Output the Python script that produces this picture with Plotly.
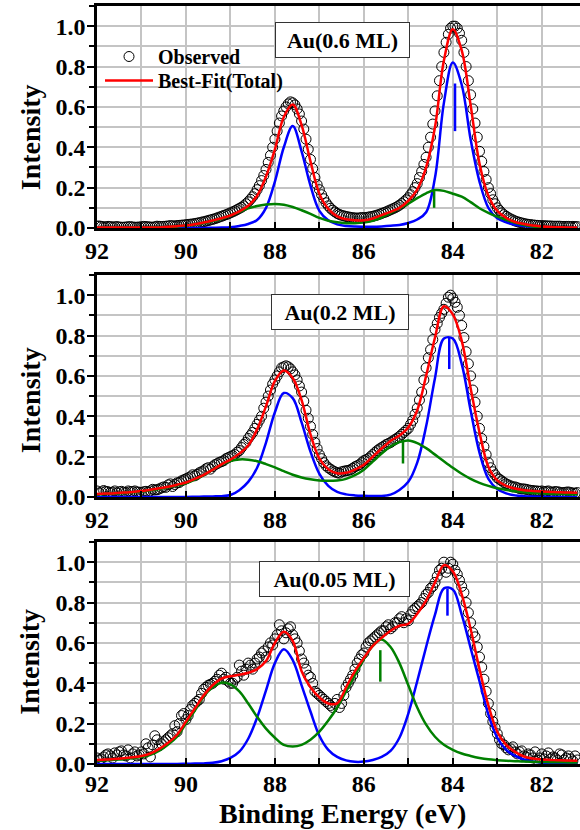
#!/usr/bin/env python3
"""Au 4f XPS spectra at three coverages: observed points with fitted components."""

from __future__ import annotations

import plotly.graph_objects as go
from plotly.subplots import make_subplots


FONT = "Liberation Serif"
GRID = "#c4c4c4"
BLUE = "#0000ff"
GREEN = "#008000"
RED = "#ff0000"

W, H = 580, 830
M_LEFT, M_RIGHT, M_TOP, M_BOT = 97, 0, 6, 66
# panel (top, bottom) in pixels
PANELS_PX = [(6, 228), (275, 497), (542, 764)]
# shift of the energy tick labels per panel (px)
XLABEL_STANDOFF = [-1, -1, -4]

X_RANGE = [92, 81.14]
Y_RANGE = [0, 1.1]

COVERAGE_LABELS = ["Au(0.6 ML)", "Au(0.2 ML)", "Au(0.05 ML)"]

# energy grid of the fitted curves (eV)
ENERGY_FIT = [
    92.0, 91.8, 91.6, 91.4, 91.2, 91.0, 90.8, 90.6, 90.4, 90.2,
    90.0, 89.8, 89.6, 89.4, 89.2, 89.0, 88.8, 88.6, 88.4, 88.2,
    88.0, 87.8, 87.6, 87.4, 87.2, 87.0, 86.8, 86.6, 86.4, 86.2,
    86.0, 85.8, 85.6, 85.4, 85.2, 85.0, 84.8, 84.6, 84.4, 84.2,
    84.0, 83.8, 83.6, 83.4, 83.2, 83.0, 82.8, 82.6, 82.4, 82.2,
    82.0, 81.8, 81.6, 81.4, 81.2,
]

# energy grid of the measured points (eV): whole tenths ...
ENERGY_OBS = [
    92.0, 91.9, 91.8, 91.7, 91.6, 91.5, 91.4, 91.3, 91.2, 91.1,
    91.0, 90.9, 90.8, 90.7, 90.6, 90.5, 90.4, 90.3, 90.2, 90.1,
    90.0, 89.9, 89.8, 89.7, 89.6, 89.5, 89.4, 89.3, 89.2, 89.1,
    89.0, 88.9, 88.8, 88.7, 88.6, 88.5, 88.4, 88.3, 88.2, 88.1,
    88.0, 87.9, 87.8, 87.7, 87.6, 87.5, 87.4, 87.3, 87.2, 87.1,
    87.0, 86.9, 86.8, 86.7, 86.6, 86.5, 86.4, 86.3, 86.2, 86.1,
    86.0, 85.9, 85.8, 85.7, 85.6, 85.5, 85.4, 85.3, 85.2, 85.1,
    85.0, 84.9, 84.8, 84.7, 84.6, 84.5, 84.4, 84.3, 84.2, 84.1,
    84.0, 83.9, 83.8, 83.7, 83.6, 83.5, 83.4, 83.3, 83.2, 83.1,
    83.0, 82.9, 82.8, 82.7, 82.6, 82.5, 82.4, 82.3, 82.2, 82.1,
    82.0, 81.9, 81.8, 81.7, 81.6, 81.5, 81.4, 81.3, 81.2,
]
# ... and the half steps between them
ENERGY_OBS_MID = [
    91.95, 91.85, 91.75, 91.65, 91.55, 91.45, 91.35, 91.25, 91.15, 91.05,
    90.95, 90.85, 90.75, 90.65, 90.55, 90.45, 90.35, 90.25, 90.15, 90.05,
    89.95, 89.85, 89.75, 89.65, 89.55, 89.45, 89.35, 89.25, 89.15, 89.05,
    88.95, 88.85, 88.75, 88.65, 88.55, 88.45, 88.35, 88.25, 88.15, 88.05,
    87.95, 87.85, 87.75, 87.65, 87.55, 87.45, 87.35, 87.25, 87.15, 87.05,
    86.95, 86.85, 86.75, 86.65, 86.55, 86.45, 86.35, 86.25, 86.15, 86.05,
    85.95, 85.85, 85.75, 85.65, 85.55, 85.45, 85.35, 85.25, 85.15, 85.05,
    84.95, 84.85, 84.75, 84.65, 84.55, 84.45, 84.35, 84.25, 84.15, 84.05,
    83.95, 83.85, 83.75, 83.65, 83.55, 83.45, 83.35, 83.25, 83.15, 83.05,
    82.95, 82.85, 82.75, 82.65, 82.55, 82.45, 82.35, 82.25, 82.15, 82.05,
    81.95, 81.85, 81.75, 81.65, 81.55, 81.45, 81.35, 81.25,
]

# ---- Au(0.6 ML)
OBS_06 = [
    0.009, 0.008, 0.006, 0.007, 0.006, 0.005, 0.004, 0.006, 0.005, 0.004,
    0.006, 0.007, 0.005, 0.006, 0.008, 0.008, 0.010, 0.011, 0.012, 0.014,
    0.016, 0.019, 0.022, 0.026, 0.031, 0.037, 0.043, 0.050, 0.058, 0.066,
    0.075, 0.085, 0.097, 0.110, 0.130, 0.155, 0.190, 0.235, 0.290, 0.360,
    0.440, 0.520, 0.580, 0.615, 0.620, 0.590, 0.530, 0.440, 0.340, 0.250,
    0.190, 0.145, 0.110, 0.088, 0.072, 0.063, 0.057, 0.053, 0.050, 0.050,
    0.051, 0.054, 0.058, 0.064, 0.072, 0.080, 0.090, 0.100, 0.113, 0.130,
    0.150, 0.180, 0.220, 0.280, 0.350, 0.450, 0.580, 0.730, 0.870, 0.960,
    1.000, 0.990, 0.930, 0.800, 0.660, 0.520, 0.380, 0.280, 0.200, 0.140,
    0.100, 0.075, 0.058, 0.045, 0.035, 0.028, 0.022, 0.018, 0.015, 0.013,
    0.012, 0.011, 0.010, 0.009, 0.009, 0.008, 0.008, 0.008, 0.007,
]
OBS_06_MID = [
    0.010, 0.006, 0.008, 0.005, 0.007, 0.004, 0.005, 0.007, 0.004, 0.005,
    0.008, 0.006, 0.004, 0.009, 0.007, 0.009, 0.012, 0.010, 0.013, 0.015,
    0.018, 0.020, 0.024, 0.029, 0.034, 0.040, 0.046, 0.054, 0.062, 0.070,
    0.080, 0.091, 0.103, 0.120, 0.142, 0.170, 0.210, 0.260, 0.325, 0.400,
    0.480, 0.555, 0.600, 0.625, 0.610, 0.565, 0.490, 0.390, 0.295, 0.215,
    0.165, 0.125, 0.098, 0.080, 0.067, 0.060, 0.055, 0.051, 0.049, 0.052,
    0.052, 0.056, 0.061, 0.068, 0.076, 0.085, 0.095, 0.106, 0.121, 0.140,
    0.165, 0.200, 0.250, 0.315, 0.400, 0.515, 0.655, 0.800, 0.920, 0.990,
    1.000, 0.965, 0.870, 0.730, 0.590, 0.450, 0.330, 0.240, 0.170, 0.120,
    0.087, 0.066, 0.051, 0.040, 0.031, 0.025, 0.020, 0.017, 0.014, 0.012,
    0.011, 0.010, 0.009, 0.009, 0.008, 0.008, 0.007, 0.007,
]
BLUE_06 = [
    0, 0, 0, 0, 0, 0, 0, 0, 0, 0,
    0, 0, 0, 0.001, 0.002, 0.004, 0.010, 0.020, 0.040, 0.100,
    0.230, 0.400, 0.505, 0.380, 0.210, 0.085, 0.038, 0.018, 0.010, 0.007,
    0.006, 0.006, 0.008, 0.011, 0.015, 0.025, 0.042, 0.078, 0.250, 0.620,
    0.820, 0.710, 0.440, 0.230, 0.100, 0.048, 0.028, 0.016, 0.010, 0.006,
    0.004, 0.002, 0.001, 0.001, 0.0,
]
GREEN_06 = [
    0.001, 0.001, 0.001, 0.001, 0.001, 0.001, 0.002, 0.003, 0.004, 0.007,
    0.011, 0.017, 0.025, 0.034, 0.046, 0.062, 0.080, 0.097, 0.109, 0.116,
    0.119, 0.115, 0.104, 0.088, 0.070, 0.050, 0.036, 0.028, 0.024, 0.024,
    0.027, 0.036, 0.052, 0.075, 0.098, 0.120, 0.148, 0.172, 0.188, 0.184,
    0.170, 0.155, 0.128, 0.098, 0.075, 0.056, 0.040, 0.026, 0.015, 0.008,
    0.004, 0.002, 0.001, 0.0, 0.0,
]
TOTAL_06 = [
    0.003, 0.003, 0.003, 0.003, 0.003, 0.003, 0.003, 0.003, 0.006, 0.009,
    0.013, 0.019, 0.027, 0.037, 0.048, 0.062, 0.082, 0.110, 0.160, 0.255,
    0.390, 0.550, 0.612, 0.510, 0.330, 0.170, 0.095, 0.058, 0.043, 0.038,
    0.038, 0.047, 0.064, 0.080, 0.100, 0.135, 0.190, 0.300, 0.500, 0.830,
    0.985, 0.880, 0.610, 0.320, 0.160, 0.085, 0.050, 0.030, 0.020, 0.012,
    0.008, 0.005, 0.004, 0.003, 0.003,
]

# ---- Au(0.2 ML)
OBS_02 = [
    0.030, 0.025, 0.028, 0.022, 0.030, 0.026, 0.024, 0.030, 0.027, 0.025,
    0.022, 0.028, 0.030, 0.035, 0.040, 0.050, 0.060, 0.052, 0.070, 0.080,
    0.090, 0.100, 0.105, 0.120, 0.130, 0.145, 0.150, 0.165, 0.175, 0.190,
    0.200, 0.210, 0.230, 0.260, 0.290, 0.320, 0.360, 0.400, 0.470, 0.530,
    0.580, 0.620, 0.645, 0.645, 0.620, 0.580, 0.520, 0.430, 0.350, 0.270,
    0.210, 0.170, 0.145, 0.130, 0.120, 0.125, 0.130, 0.135, 0.150, 0.160,
    0.180, 0.190, 0.210, 0.230, 0.245, 0.260, 0.270, 0.285, 0.300, 0.320,
    0.340, 0.380, 0.440, 0.520, 0.640, 0.730, 0.830, 0.890, 0.930, 0.990,
    0.985, 0.940, 0.850, 0.720, 0.600, 0.470, 0.340, 0.250, 0.170, 0.125,
    0.095, 0.080, 0.065, 0.055, 0.050, 0.042, 0.040, 0.035, 0.032, 0.030,
    0.030, 0.028, 0.025, 0.027, 0.024, 0.022, 0.025, 0.020, 0.022,
]
OBS_02_MID = [
    0.020, 0.032, 0.026, 0.024, 0.020, 0.028, 0.022, 0.026, 0.030, 0.024,
    0.026, 0.024, 0.038, 0.036, 0.045, 0.048, 0.065, 0.062, 0.072, 0.085,
    0.095, 0.110, 0.112, 0.125, 0.140, 0.138, 0.160, 0.172, 0.180, 0.195,
    0.205, 0.222, 0.245, 0.270, 0.305, 0.340, 0.380, 0.440, 0.500, 0.560,
    0.600, 0.640, 0.650, 0.635, 0.605, 0.550, 0.475, 0.390, 0.310, 0.240,
    0.190, 0.155, 0.138, 0.125, 0.118, 0.128, 0.132, 0.142, 0.155, 0.170,
    0.185, 0.200, 0.220, 0.238, 0.252, 0.265, 0.278, 0.292, 0.310, 0.330,
    0.360, 0.410, 0.480, 0.580, 0.690, 0.780, 0.860, 0.910, 0.960, 1.000,
    0.965, 0.900, 0.790, 0.660, 0.530, 0.400, 0.290, 0.210, 0.145, 0.110,
    0.088, 0.072, 0.060, 0.050, 0.046, 0.040, 0.038, 0.033, 0.030, 0.028,
    0.026, 0.030, 0.024, 0.026, 0.021, 0.024, 0.022, 0.019,
]
BLUE_02 = [
    0, 0, 0, 0, 0, 0, 0, 0, 0, 0,
    0, 0.001, 0.002, 0.003, 0.004, 0.010, 0.034, 0.075, 0.145, 0.270,
    0.420, 0.515, 0.490, 0.370, 0.225, 0.115, 0.055, 0.025, 0.013, 0.008,
    0.006, 0.005, 0.005, 0.012, 0.035, 0.075, 0.170, 0.350, 0.590, 0.785,
    0.785, 0.660, 0.430, 0.220, 0.090, 0.040, 0.018, 0.008, 0.004, 0.002,
    0.001, 0.0, 0.0, 0.0, 0.0,
]
GREEN_02 = [
    0.013, 0.015, 0.017, 0.020, 0.023, 0.027, 0.033, 0.040, 0.048, 0.058,
    0.068, 0.086, 0.108, 0.135, 0.160, 0.178, 0.186, 0.185, 0.177, 0.163,
    0.147, 0.128, 0.110, 0.097, 0.088, 0.082, 0.080, 0.082, 0.090, 0.108,
    0.135, 0.175, 0.215, 0.250, 0.272, 0.280, 0.267, 0.242, 0.210, 0.177,
    0.145, 0.115, 0.090, 0.070, 0.055, 0.043, 0.035, 0.028, 0.023, 0.020,
    0.018, 0.016, 0.015, 0.014, 0.013,
]
TOTAL_02 = [
    0.015, 0.017, 0.019, 0.022, 0.025, 0.030, 0.036, 0.043, 0.051, 0.061,
    0.072, 0.090, 0.110, 0.135, 0.162, 0.185, 0.215, 0.255, 0.335, 0.450,
    0.575, 0.627, 0.590, 0.480, 0.310, 0.190, 0.138, 0.118, 0.120, 0.136,
    0.160, 0.200, 0.240, 0.278, 0.305, 0.345, 0.430, 0.600, 0.790, 0.945,
    0.905, 0.775, 0.540, 0.320, 0.150, 0.082, 0.055, 0.042, 0.034, 0.030,
    0.027, 0.025, 0.023, 0.022, 0.021,
]

# ---- Au(0.05 ML)
OBS_005 = [
    0.030, 0.025, 0.045, 0.040, 0.055, 0.060, 0.045, 0.070, 0.050, 0.040,
    0.060, 0.100, 0.035, 0.140, 0.090, 0.110, 0.130, 0.150, 0.160, 0.240,
    0.220, 0.270, 0.300, 0.320, 0.370, 0.390, 0.400, 0.420, 0.450, 0.430,
    0.400, 0.420, 0.490, 0.440, 0.500, 0.470, 0.520, 0.550, 0.530, 0.600,
    0.620, 0.690, 0.620, 0.670, 0.640, 0.600, 0.520, 0.470, 0.430, 0.360,
    0.340, 0.320, 0.300, 0.280, 0.320, 0.300, 0.380, 0.420, 0.470, 0.520,
    0.550, 0.600, 0.620, 0.640, 0.660, 0.680, 0.670, 0.700, 0.720, 0.700,
    0.710, 0.760, 0.780, 0.800, 0.840, 0.870, 0.900, 0.960, 1.000, 0.970,
    0.990, 0.940, 0.880, 0.800, 0.700, 0.630, 0.530, 0.420, 0.300, 0.210,
    0.150, 0.100, 0.080, 0.075, 0.060, 0.060, 0.040, 0.050, 0.030, 0.020,
    0.050, 0.040, 0.025, 0.030, 0.050, 0.020, 0.040, 0.015, 0.020,
]
OBS_005_MID = [
    0.020, 0.035, 0.050, 0.030, 0.045, 0.065, 0.040, 0.030, 0.060, 0.045,
    0.050, 0.080, 0.095, 0.120, 0.100, 0.120, 0.140, 0.190, 0.200, 0.250,
    0.240, 0.290, 0.310, 0.350, 0.380, 0.395, 0.410, 0.440, 0.420, 0.410,
    0.400, 0.430, 0.460, 0.470, 0.490, 0.500, 0.530, 0.560, 0.580, 0.590,
    0.640, 0.660, 0.650, 0.680, 0.620, 0.560, 0.500, 0.440, 0.400, 0.350,
    0.330, 0.310, 0.290, 0.300, 0.280, 0.340, 0.400, 0.440, 0.500, 0.540,
    0.580, 0.610, 0.630, 0.650, 0.660, 0.690, 0.680, 0.700, 0.730, 0.720,
    0.740, 0.770, 0.790, 0.820, 0.850, 0.880, 0.930, 0.970, 0.950, 1.000,
    0.960, 0.910, 0.850, 0.750, 0.650, 0.580, 0.480, 0.360, 0.250, 0.180,
    0.120, 0.095, 0.070, 0.085, 0.050, 0.065, 0.035, 0.045, 0.060, 0.030,
    0.025, 0.055, 0.035, 0.020, 0.045, 0.030, 0.025, 0.040,
]
BLUE_005 = [
    0, 0, 0, 0, 0, 0, 0, 0, 0, 0,
    0.001, 0.002, 0.003, 0.006, 0.014, 0.030, 0.061, 0.125, 0.230, 0.365,
    0.500, 0.568, 0.515, 0.390, 0.260, 0.140, 0.070, 0.035, 0.018, 0.011,
    0.012, 0.020, 0.035, 0.065, 0.130, 0.250, 0.410, 0.580, 0.740, 0.870,
    0.865, 0.740, 0.575, 0.410, 0.245, 0.130, 0.070, 0.040, 0.022, 0.012,
    0.007, 0.004, 0.002, 0.001, 0.001,
]
GREEN_005 = [
    0.016, 0.018, 0.021, 0.024, 0.028, 0.034, 0.045, 0.066, 0.097, 0.135,
    0.200, 0.265, 0.335, 0.380, 0.403, 0.395, 0.360, 0.300, 0.234, 0.175,
    0.130, 0.095, 0.087, 0.095, 0.120, 0.160, 0.215, 0.280, 0.360, 0.440,
    0.520, 0.585, 0.617, 0.580, 0.500, 0.390, 0.280, 0.195, 0.135, 0.095,
    0.070, 0.052, 0.040, 0.030, 0.023, 0.019, 0.016, 0.014, 0.012, 0.011,
    0.010, 0.009, 0.009, 0.008, 0.008,
]
TOTAL_005 = [
    0.020, 0.022, 0.025, 0.028, 0.033, 0.040, 0.052, 0.075, 0.105, 0.145,
    0.210, 0.275, 0.340, 0.390, 0.423, 0.435, 0.442, 0.452, 0.470, 0.510,
    0.600, 0.655, 0.610, 0.460, 0.380, 0.330, 0.300, 0.300, 0.380, 0.460,
    0.525, 0.585, 0.625, 0.660, 0.685, 0.695, 0.745, 0.810, 0.900, 0.985,
    0.955, 0.840, 0.670, 0.470, 0.290, 0.160, 0.095, 0.060, 0.037, 0.027,
    0.022, 0.020, 0.018, 0.017, 0.016,
]

# peak-position markers, one per panel (x, lower y, upper y)
BLUE_MARK_X = [83.95, 84.08, 84.12]
BLUE_MARK_LO = [0.48, 0.634, 0.735]
BLUE_MARK_HI = [0.716, 0.79, 0.87]
GREEN_MARK_X = [84.42, 85.12, 85.63]
GREEN_MARK_LO = [0.10, 0.166, 0.408]
GREEN_MARK_HI = [0.183, 0.275, 0.564]

# label box centres (data coords) per panel
LABEL_X = [86.49, 86.53, 86.67]
LABEL_Y = [0.93, 0.919, 0.918]
LABEL_W = [127, 130, 143]
# y position (data coords) of the "Intensity" title per panel
YTITLE_Y = [0.45, 0.48, 0.507]


def tick_font(size: int) -> dict:
    return dict(family=FONT, size=size, color="black", weight="bold")


def main() -> int:
    panels = [
        (OBS_06 + OBS_06_MID, BLUE_06, GREEN_06, TOTAL_06),
        (OBS_02 + OBS_02_MID, BLUE_02, GREEN_02, TOTAL_02),
        (OBS_005 + OBS_005_MID, BLUE_005, GREEN_005, TOTAL_005),
    ]
    energy_obs = ENERGY_OBS + ENERGY_OBS_MID

    fig = make_subplots(rows=3, cols=1, vertical_spacing=0.06)
    plot_h = H - M_TOP - M_BOT
    plot_w = W - M_LEFT - M_RIGHT
    extra_axes = {}

    for i, (obs, blue, green, total) in enumerate(panels):
        row = i + 1
        first = i == 0
        fig.add_trace(
            go.Scatter(
                x=energy_obs, y=obs, mode="markers", name="Observed",
                marker=dict(symbol="circle-open", size=10, color="black", line=dict(width=1)),
                showlegend=first, legend="legend",
            ),
            row=row, col=1,
        )
        for ys, col in [(blue, BLUE), (green, GREEN)]:
            fig.add_trace(
                go.Scatter(
                    x=ENERGY_FIT, y=ys, mode="lines", showlegend=False,
                    line=dict(color=col, width=2.5, shape="spline", smoothing=1.0),
                ),
                row=row, col=1,
            )
        fig.add_trace(
            go.Scatter(
                x=ENERGY_FIT, y=total, mode="lines", name="Best-Fit(Total)",
                line=dict(color=RED, width=2.5, shape="spline", smoothing=1.0),
                showlegend=first, legend="legend2",
            ),
            row=row, col=1,
        )
        for mx, lo, hi, col in [
            (BLUE_MARK_X[i], BLUE_MARK_LO[i], BLUE_MARK_HI[i], BLUE),
            (GREEN_MARK_X[i], GREEN_MARK_LO[i], GREEN_MARK_HI[i], GREEN),
        ]:
            fig.add_trace(
                go.Scatter(x=[mx, mx], y=[lo, hi], mode="lines", showlegend=False,
                           line=dict(color=col, width=2.5)),
                row=row, col=1,
            )

        top, bot = PANELS_PX[i]
        dom = [(H - M_BOT - bot) / plot_h, (H - M_BOT - top) / plot_h]
        fig.update_yaxes(
            domain=dom, range=Y_RANGE, tickmode="linear", tick0=0, dtick=0.2,
            tickformat=".1f", ticks="outside", ticklen=7, tickwidth=2, tickcolor="black",
            minor=dict(dtick=0.1, tick0=0, ticks="outside", ticklen=5, tickwidth=2,
                       tickcolor="black", showgrid=True, gridcolor=GRID, gridwidth=1.6),
            showgrid=True, gridcolor=GRID, gridwidth=1.6, zeroline=False,
            showline=True, linecolor="black", linewidth=2.5, mirror=True,
            ticklabelstandoff=-3,
            tickfont=tick_font(24),
            row=row, col=1,
        )
        fig.update_xaxes(
            range=X_RANGE, tickmode="linear", tick0=92, dtick=2,
            ticks="inside", ticklen=6, tickwidth=2, tickcolor="black",
            minor=dict(dtick=1, tick0=92, ticks="inside", ticklen=6, tickwidth=2,
                       tickcolor="black", showgrid=True, gridcolor=GRID, gridwidth=1.6),
            showgrid=True, gridcolor=GRID, gridwidth=1.6, zeroline=False,
            showline=True, linecolor="black", linewidth=2.5, mirror=True,
            ticklabelstandoff=XLABEL_STANDOFF[i],
            tickfont=tick_font(24),
            row=row, col=1,
        )

        xname = "x" if first else f"x{row}"
        yname = "y" if first else f"y{row}"
        # top ticks point outward, right-hand ticks point inward
        extra_axes[f"xaxis{row + 3}"] = dict(
            overlaying=xname, anchor=yname, side="top", range=X_RANGE,
            tickmode="linear", tick0=92, dtick=1, ticks="outside", ticklen=4,
            tickwidth=2, tickcolor="black", showticklabels=False,
            showgrid=False, zeroline=False, showline=False,
        )
        extra_axes[f"yaxis{row + 3}"] = dict(
            overlaying=yname, anchor=xname, side="right", range=Y_RANGE,
            tickmode="linear", tick0=0, dtick=0.1, ticks="inside", ticklen=4,
            tickwidth=2, tickcolor="black", showticklabels=False,
            showgrid=False, zeroline=False, showline=False,
        )

        fig.add_annotation(
            x=LABEL_X[i], y=LABEL_Y[i], xref=xname, yref=yname,
            text=COVERAGE_LABELS[i], showarrow=False,
            width=LABEL_W[i], height=28, borderpad=3, borderwidth=1,
            bordercolor="#333333", bgcolor="white",
            font=tick_font(22),
        )
        fig.add_annotation(
            x=(30 - M_LEFT) / plot_w, y=YTITLE_Y[i], xref="paper", yref=yname,
            text="Intensity", textangle=-90, showarrow=False,
            xanchor="center", yanchor="middle", font=tick_font(28),
        )

    fig.add_annotation(
        x=(342 - M_LEFT) / plot_w, y=(H - M_BOT - 813) / plot_h,
        xref="paper", yref="paper", text="Binding Energy (eV)", showarrow=False,
        xanchor="center", yanchor="middle", font=tick_font(28),
    )

    legend_common = dict(
        xref="container", yref="container", xanchor="left", yanchor="top",
        bgcolor="rgba(0,0,0,0)", font=tick_font(20), itemwidth=48,
    )
    fig.update_layout(
        width=W, height=H,
        margin=dict(l=M_LEFT, r=M_RIGHT, t=M_TOP, b=M_BOT, autoexpand=False),
        paper_bgcolor="white", plot_bgcolor="white",
        font=dict(family=FONT, color="black", weight="bold"),
        legend=dict(x=100 / W, y=1 - 37 / H, **legend_common),
        legend2=dict(x=100 / W, y=1 - 61 / H, **legend_common),
        **extra_axes,
    )

    fig.write_html(
        "out.html",
        config={"displayModeBar": False},
        post_script="document.body.style.margin='0';",
    )
    return 0


if __name__ == "__main__":
    raise SystemExit(main())
